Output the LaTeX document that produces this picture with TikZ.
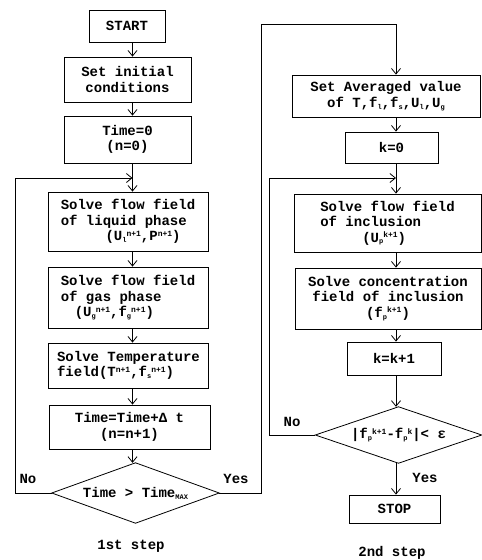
\documentclass[tikz,border=0pt]{standalone}
\usepackage{fontspec}
\setmainfont{Liberation Mono}
\usetikzlibrary{arrows.meta}
\newcommand{\upi}[1]{\raisebox{0.6ex}{\fontsize{8}{8}\selectfont #1}}
\newcommand{\dni}[1]{\raisebox{-0.25ex}{\fontsize{7}{7}\selectfont #1}}
\begin{document}
\begin{tikzpicture}[x=1pt,y=-1pt,
  every node/.style={font=\bfseries\fontsize{14}{15.5}\selectfont},
  box/.style={draw, line width=0.8pt, inner sep=0pt, align=center},
  lbox/.style={draw, line width=0.8pt, inner sep=0pt, align=left},
  dec/.style={inner sep=0pt, align=center},
  lnk/.style={line width=0.8pt},
  arr/.style={lnk, -{Straight Barb[length=5.5pt,width=9pt,line width=0.8pt]}},
  lab/.style={inner sep=0pt}]
\useasboundingbox (0,0) rectangle (482,560);
\coordinate (lc) at (132.5,0);
\coordinate (rc) at (396,0);
% left column
\node[box, minimum width=76, minimum height=32] (start) at (127,26) {START};
\node[box, minimum width=127, minimum height=45] (init) at (127.5,79.5) {Set initial\\conditions};
\node[box, minimum width=127, minimum height=47] (t0) at (127.5,139.5) {Time=0\\(n=0)};
\node[lbox, minimum width=160, minimum height=59] (liq) at (128,221.5) {Solve flow field\\of liquid phase\\\hspace*{3.2em}(U\dni{l}\upi{n+1},P\upi{n+1})};
\node[lbox, minimum width=160, minimum height=61] (gas) at (128,297.5) {Solve flow field\\of gas phase\\\hspace*{1em}(U\dni{g}\upi{n+1},f\dni{g}\upi{n+1})};
\node[lbox, minimum width=160, minimum height=45] (temp) at (128.5,365.5) {Solve Temperature\\field(T\upi{n+1},f\dni{s}\upi{n+1})};
\node[box, minimum width=161, minimum height=44] (tinc) at (129.5,427) {Time=Time+Δ t\\(n=n+1)};
\node[dec, minimum width=167, minimum height=60] (d1) at (135.5,493) {Time > Time\dni{MAX}};
\draw[lnk] (d1.north) -- (d1.east) -- (d1.south) -- (d1.west) -- cycle;
% right column
\node[box, minimum width=188, minimum height=42] (avg) at (386,96) {Set Averaged value\\of T,f\dni{l},f\dni{s},U\dni{l},U\dni{g}};
\node[box, minimum width=93, minimum height=31] (k0) at (391.5,147.5) {k=0};
\node[lbox, minimum width=187, minimum height=58] (incl) at (387.5,223) {Solve flow field\\of inclusion\\\hspace*{3em}(U\dni{p}\upi{k+1})};
\node[box, minimum width=186, minimum height=61] (conc) at (388,298.5) {Solve concentration\\field of inclusion\\(f\dni{p}\upi{k+1})};
\node[box, minimum width=94, minimum height=33] (kinc) at (394,358.5) {k=k+1};
\node[dec, minimum width=166, minimum height=56] (d2) at (398.5,435) {|f\dni{p}\upi{k+1}-f\dni{p}\upi{k}|< ε};
\draw[lnk] (d2.north) -- (d2.east) -- (d2.south) -- (d2.west) -- cycle;
\node[box, minimum width=91, minimum height=28] (stop) at (394.5,509) {STOP};
% labels
\node[lab] (no1) at (28,479) {No};
\node[lab] (yes1) at (236,479) {Yes};
\node[lab] (no2) at (292,422) {No};
\node[lab] (yes2) at (425,478) {Yes};
\node[lab] (cap1) at (131,546) {1st step};
\node[lab] (cap2) at (392,553) {2nd step};
% coordinates for loops
\coordinate (j1) at (132.5,178);
\coordinate (j2) at (396,178);
% left arrows
\draw[arr] (start.south -| lc) -- (init.north -| lc);
\draw[arr] (init.south -| lc) -- (t0.north -| lc);
\draw[arr] (t0.south -| lc) -- (liq.north -| lc);
\draw[arr] (liq.south -| lc) -- (gas.north -| lc);
\draw[arr] (gas.south -| lc) -- (temp.north -| lc);
\draw[arr] (temp.south -| lc) -- (tinc.north -| lc);
\draw[arr] (tinc.south -| lc) -- (d1.north -| lc);
\draw[arr] (d1.west) -- (15,493) -- (15,178) -- (j1);
% yes to right
\draw[arr] (d1.east) -- (261,493) -- (261,24) -- (396,24) -- (avg.north -| rc);
% right arrows
\draw[arr] (avg.south -| rc) -- (k0.north -| rc);
\draw[arr] (k0.south -| rc) -- (incl.north -| rc);
\draw[arr] (incl.south -| rc) -- (conc.north -| rc);
\draw[arr] (conc.south -| rc) -- (kinc.north -| rc);
\draw[arr] (kinc.south -| rc) -- (d2.north -| rc);
\draw[arr] (d2.south -| rc) -- (stop.north -| rc);
\draw[arr] (d2.west) -- (269,435) -- (269,178) -- (j2);
\end{tikzpicture}
\end{document}
